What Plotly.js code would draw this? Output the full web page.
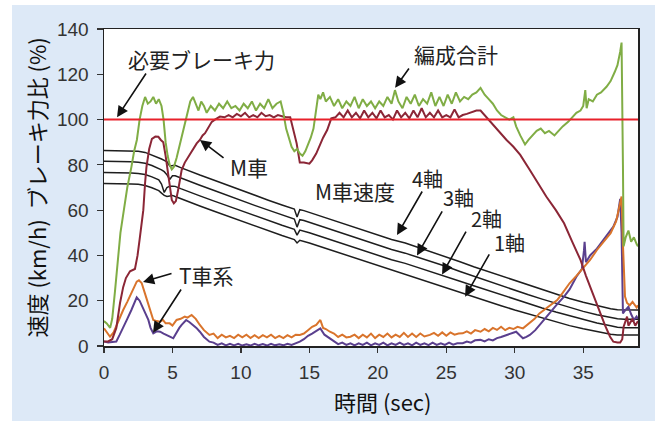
<!DOCTYPE html>
<html>
<head>
<meta charset="utf-8">
<script src="https://cdn.plot.ly/plotly-3.0.1.min.js"></script>
<style>
html,body{margin:0;padding:0;background:#ffffff;}
#chart{position:absolute;left:12px;top:5px;width:643px;height:416px;}
</style>
</head>
<body>
<div id="chart"></div>
<script>
// ---- data ----
var greenT = [0,0.2,0.45,0.6,0.8,1.0,1.2,1.45,1.7,2.0,2.2,2.4,2.6,2.8,3.0,3.2,3.4,3.6,3.8,4.0,4.2,4.35,4.5,4.65,4.8,4.95,5.1,5.3,5.5,5.7,5.9,6.1,6.3,6.5,6.7,6.9,7.1,7.3,7.5,7.8,8.1,8.4,8.7,9.0,9.3,9.6,9.9,10.2,10.5,10.8,11.1,11.4,11.7,12.0,12.3,12.6,12.9,13.1,13.3,13.5,13.7,13.9,14.1,14.3,14.5,14.7,14.9,15.1,15.3,15.5,15.65,15.8,16.0,16.2,16.5,16.8,17.1,17.4,17.7,18.0,18.3,18.6,18.9,19.2,19.5,19.8,20.1,20.4,20.7,21.0,21.25,21.5,21.8,22.1,22.4,22.7,23.0,23.3,23.6,23.9,24.2,24.5,24.8,25.1,25.4,25.7,26.0,26.3,26.6,26.9,27.2,27.5,27.8,28.1,28.4,28.7,29.0,29.3,29.6,29.9,30.1,30.4,30.75,31.0,31.3,31.6,31.9,32.2,32.5,32.9,33.2,33.5,33.9,34.2,34.5,34.8,35.0,35.15,35.25,35.4,35.7,36.0,36.3,36.7,37.0,37.3,37.5,37.7,37.8,37.9,37.95,38.1,38.3,38.5,38.7,38.9,39.0];
var greenV = [11,10,8,12,24,38,50,60,70,79,86,91,100,106,110,107,108,110,107,109,106,100,90,84,80,78,79,83,88,92,97,103,108,110,107,104,108,106,103,106,104,107,105,108,105,106,104,107,105,108,104,107,105,109,105,107,108,103,96,92,88,86,87,85,84,86,89,92,96,104,111,109,112,108,110,106,109,105,108,106,110,105,109,106,108,105,108,106,110,107,113,108,105,110,107,111,106,109,107,112,106,110,106,111,107,112,108,110,109,111,112,114,111,109,107,104,102,101,100,101,97,93,89,91,93,95,96,94,95,93,95,97,99,101,103,104,106,113,105,109,108,111,112,114.5,117,121,124,130,134,80,44,48,51,46,48,45,44];

var mT = [0,0.3,0.6,0.9,1.17,1.4,1.6,1.9,2.26,2.45,2.6,2.75,2.87,3.0,3.1,3.3,3.5,3.75,3.97,4.15,4.33,4.5,4.6,4.8,4.95,5.1,5.25,5.45,5.67,5.9,6.1,6.28,6.5,6.77,7.0,7.2,7.38,7.6,7.87,8.1,8.47,8.8,9.1,9.4,9.7,10.0,10.3,10.6,10.9,11.2,11.5,11.8,12.1,12.4,12.7,13.0,13.3,13.6,13.8,14.07,14.3,14.6,15.0,15.2,15.5,15.8,16.0,16.3,16.6,16.9,17.2,17.5,17.8,18.1,18.4,18.7,19.0,19.3,19.6,19.9,20.2,20.5,20.8,21.1,21.4,21.7,22.0,22.3,22.6,22.9,23.2,23.5,23.8,24.1,24.4,24.7,25.0,25.3,25.6,25.9,26.2,26.5,26.8,27.2,27.5,27.9,28.3,28.7,29.0,29.4,29.9,30.4,31.1,31.7,32.3,33.0,33.6,34.2,34.8,35.2,35.5,35.8,36.2,36.6,36.96,37.2,37.5,37.7,37.85,37.95,38.2,38.3,38.4,38.6,38.8,39.0];
var mV = [2,2,3,8,19,26,30,33,34,40,47,54,60,72,79,87,91.5,92.5,92.4,91,90,84,80,70,64.5,63,64,70,77.7,81,83,85,87,89.5,91,93,94,96,99,100,101.3,101,102,101,102.5,101.5,103,101,102,101,103,101.5,102,101,102,101.5,101,101,96,89.5,81,81,80.5,82,85,89.5,92,95.4,100.5,101,103,101,104,101,103,100.5,104,101,103,100.5,104,101,102,100,104,101,103,100.5,104,101,105,101,103,101,104,101,102,101,104.5,101,102,102.5,103,104,104,101.3,98.5,96,93.5,91,88,84.4,77.7,72,66,60,54.2,46,38,31,26.2,21,15.2,9,4.1,1.9,1.5,1.5,3,8.5,13,9,10,12,9,11];

var orangeT = [0,0.2,0.44,0.7,0.93,1.15,1.4,1.7,2.0,2.2,2.39,2.55,2.75,3.0,3.2,3.36,3.6,3.85,4.1,4.3,4.5,4.8,5.0,5.3,5.6,5.9,6.1,6.4,6.7,7.0,7.3,7.7,8.0,8.3,8.6,8.9,9.2,9.5,9.8,10.1,10.4,10.7,11.0,11.3,11.6,11.9,12.2,12.5,12.8,13.1,13.4,13.7,14.0,14.3,14.6,14.9,15.2,15.5,15.8,16.0,16.2,16.5,16.8,17.1,17.4,17.7,18.0,18.3,18.6,18.9,19.2,19.5,19.8,20.1,20.4,20.7,21.0,21.3,21.6,21.9,22.2,22.5,22.8,23.1,23.4,23.8,24.1,24.4,24.7,25.0,25.3,25.6,25.9,26.2,26.5,26.8,27.1,27.5,27.8,28.1,28.4,28.7,29.0,29.3,29.6,29.9,30.2,30.6,30.85,31.1,31.45,31.8,32.4,33.1,33.5,34.0,34.5,35.0,35.5,36.0,36.5,37.0,37.4,37.7,37.8,37.9,38.05,38.2,38.4,38.6,38.9,39.0];
var orangeV = [7.8,6,4.1,6,9.3,12.5,15.9,19.5,23.3,26,28.4,29,27.8,23,19,15.9,11.5,11,10.7,11.5,10,10,9,11.5,12,13,12.5,13.7,12,9.3,7,4.9,5.5,3.5,5,3.8,4.5,3.5,5,3.8,5,3.5,4.8,3.5,4.8,3.8,5,3.5,4.5,3.5,4.8,3.8,5,4.9,5.5,7,8.5,9.3,11.5,8,7.5,6.3,5.5,4,5,3.8,4.1,5,3.5,5,3.8,5.5,3.5,5,4,5.5,3.8,5,4,5.8,4,5.5,4,5.5,4.2,4.9,5.8,4.5,6,4.5,6,5,5.5,5.6,6.5,5.5,7,6.3,7.5,6.5,8,7.1,8.5,7,8,7.5,8.5,7.8,9,10,12,14.4,17,20.3,23.5,27.7,31,34.3,38,42.4,46,49.8,55,63,66,45,21.8,19,18,19.5,17,18];

var purpleT = [0,0.3,0.6,0.9,1.15,1.4,1.7,2.0,2.2,2.39,2.6,2.9,3.24,3.4,3.6,3.85,4.1,4.35,4.6,4.85,5.06,5.3,5.5,5.67,6.0,6.25,6.5,6.75,7.0,7.3,7.7,8.0,8.3,8.6,8.9,9.2,9.5,9.8,10.1,10.4,10.7,11.0,11.3,11.6,11.9,12.2,12.5,12.8,13.1,13.4,13.7,14.0,14.3,14.6,14.9,15.2,15.5,15.8,16.1,16.5,16.8,17.1,17.4,17.7,18.0,18.3,18.6,18.9,19.2,19.5,19.8,20.1,20.4,20.7,21.0,21.3,21.6,21.9,22.2,22.5,22.8,23.1,23.4,23.7,24.0,24.3,24.6,24.9,25.2,25.5,25.8,26.2,26.5,26.8,27.1,27.5,27.8,28.1,28.4,28.7,29.0,29.4,29.8,30.1,30.4,30.6,30.85,31.1,31.5,32.1,32.6,33.1,33.6,34.0,34.5,34.9,35.05,35.1,35.2,35.5,36.0,36.6,37.2,37.5,37.7,37.8,37.9,38.1,38.3,38.5,38.7,38.9,39.0];
var purpleV = [2,1.5,1.8,2,5,8.5,12,15.9,19,21.5,20,16,11.5,8,5.6,6.5,6.3,5.5,4.9,4,3.4,6,8,9.3,11.5,10.5,9.3,8,6.3,4,1.9,1.5,0.5,1.2,0.3,1,0.3,1,0.2,0.8,0.2,1,0.3,0.9,0.2,1,0.3,0.8,0.3,1,0.5,1.2,1.9,3,4.5,5.5,6.5,7.8,5,3.4,2,0.8,1.5,0.5,1.2,0.3,1.2,0.5,1.5,0.3,1.2,0.5,1.5,0.3,1.2,0.5,1.5,0.5,1.2,0.3,1.5,0.5,1.2,0.4,1.5,0.5,1.2,0.5,1.5,0.6,1.2,1.2,2,1.5,2.5,2.7,2,3,2.5,3.5,4,4.9,5.5,6.3,4.5,3.4,4,4.9,7,11.5,15,18.5,21.8,25,30.6,34,42,46,37,40,43,48,52.7,57,65,50,14.4,16,17.4,14,11.5,13,12];

var speedT = [0,1,2,2.5,3,3.5,4,4.2,4.4,4.6,4.8,5.0,5.2,5.6,6,7,8,9,10,11,12,13,13.9,14.1,14.3,14.6,15,16,17,18,19,20,21,22,23,24,25,26,27,28,29,30,31,32,33,34,35,36,37,37.5,38,39];
var axle4 = [86.3,86.3,86.2,86,85.5,84.4,83.2,82.6,82,81.3,79.5,79.7,79.8,78.8,77.8,75.5,73.3,71,68.8,66.6,64.4,62.3,60.5,57,60.2,59.8,59,57,55,53,51,49,47,45.5,43.5,41.5,39.5,37.2,35,33,30.8,28.8,26.7,24.8,22.8,21,19.3,17.8,16.5,16,15.9,15.9];
var axle3 = [81.6,81.6,81.4,81.2,80.7,79.7,78.4,77.8,77,75.6,73.6,75.2,75.2,74.2,73.2,71,68.8,66.5,64.3,62.1,60,57.9,56.1,52.5,55.8,55.4,54.6,52.6,50.6,48.6,46.6,44.6,42.6,41,39.1,37.1,35.1,32.9,30.8,28.8,26.7,24.7,22.6,20.7,18.8,17,15.3,13.8,12.5,12,11.8,11.8];
var axle2 = [76.6,76.6,76.4,76.2,75.7,74.7,73.4,71.5,67.8,70,70.6,70.6,70.5,69.5,68.5,66.3,64.1,61.9,59.7,57.5,55.4,53.3,51.5,49,51.2,50.8,50,48,46,44,42,40,38.1,36.5,34.6,32.7,30.7,28.6,26.6,24.6,22.6,20.6,18.6,16.8,15,13.3,11.7,10.2,8.9,8.3,8.1,8.1];
var axle1 = [71.8,71.8,71.6,71.4,70.9,69.9,68.6,67.5,66.5,66,66.3,66.5,66,65,64,61.8,59.6,57.4,55.2,53,50.9,48.8,47,45.5,46.7,46.3,45.5,43.5,41.5,39.5,37.5,35.5,33.6,31.8,29.8,27.8,25.7,23.6,21.6,19.7,17.8,15.9,14.1,12.3,10.6,9.0,7.6,6.3,5.2,4.9,4.9,4.9];

var requiredT = [0,39];
var requiredV = [100,100];

var xTicks = [0,5,10,15,20,25,30,35];
var yTicks = [0,20,40,60,80,100,120,140];

// ---- traces ----
var blk = {color:'#1e1e1e', width:1.5};
var traces = [
  {x:speedT, y:axle4, mode:'lines', line:blk, name:'4軸'},
  {x:speedT, y:axle3, mode:'lines', line:blk, name:'3軸'},
  {x:speedT, y:axle2, mode:'lines', line:blk, name:'2軸'},
  {x:speedT, y:axle1, mode:'lines', line:blk, name:'1軸'},
  {x:purpleT, y:purpleV, mode:'lines', line:{color:'#5a3f8e', width:2}, name:'T車系2'},
  {x:orangeT, y:orangeV, mode:'lines', line:{color:'#d9742c', width:2}, name:'T車系1'},
  {x:mT, y:mV, mode:'lines', line:{color:'#8b2636', width:2}, name:'M車'},
  {x:greenT, y:greenV, mode:'lines', line:{color:'#80ad45', width:2}, name:'編成合計'},
  {x:requiredT, y:requiredV, mode:'lines', line:{color:'#e8212b', width:2}, name:'必要ブレーキ力'}
];

var jf = {family:'"Noto Sans CJK JP", "Noto Sans", sans-serif', size:21, color:'#222'};
function lbl(x, y, t, sz) {
  var f = {family:jf.family, size:(sz || jf.size), color:jf.color};
  return {x:x, y:y, xref:'x', yref:'y', text:t, showarrow:false, font:f, xanchor:'center', yanchor:'middle', borderpad:0};
}
function arr(tx, ty, hx, hy) {
  return {x:hx, y:hy, ax:tx, ay:ty, xref:'x', yref:'y', axref:'x', ayref:'y', text:'', showarrow:true,
          arrowhead:2, arrowsize:1.4, arrowwidth:1.6, arrowcolor:'#111', standoff:0, startstandoff:0};
}

var annotations = [
  lbl(7.09, 126.8, '必要ブレーキ力'),
  lbl(25.7, 129.0, '編成合計'),
  lbl(10.6, 79.1, 'M車'),
  lbl(18.33, 68.5, 'M車速度'),
  lbl(23.6, 73.8, '4軸', 20),
  lbl(25.86, 65.4, '3軸', 20),
  lbl(27.95, 56.2, '2軸', 20),
  lbl(29.6, 45.6, '1軸', 20),
  lbl(7.52, 31.4, 'T車系'),
  arr(3.14, 121.0, 0.95, 101.0),
  arr(22.35, 123.2, 21.26, 114.0),
  arr(8.84, 82.6, 7.01, 91.0),
  arr(23.3, 68.9, 21.4, 49.0),
  arr(24.76, 60.1, 22.86, 40.0),
  arr(26.5, 51.2, 24.69, 31.6),
  arr(28.2, 41.1, 26.37, 21.8),
  arr(5.04, 32.2, 2.85, 28.3),
  arr(5.7, 25.6, 3.58, 5.9),
  {x:-0.1292, y:0.5, xref:'paper', yref:'paper', text:'速度 (km/h)  ブレーキ力比 (%)', textangle:-90,
   showarrow:false, xanchor:'center', yanchor:'middle',
   font:{family:'"Noto Sans CJK JP", sans-serif', size:22, color:'#111'}},
  {x:0.5225, y:-0.1735, xref:'paper', yref:'paper', text:'時間 (sec)', showarrow:false,
   xanchor:'center', yanchor:'middle',
   font:{family:'"Noto Sans CJK JP", sans-serif', size:22, color:'#111'}}
];

var tf = {family:'"Liberation Sans", Arial, sans-serif', size:19, color:'#333'};
var layout = {
  width:643, height:416,
  margin:{l:92, r:17, t:24, b:75, pad:0},
  paper_bgcolor:'#dde9f7',
  plot_bgcolor:'#ffffff',
  showlegend:false,
  xaxis:{range:[0,39], tickvals:xTicks, ticktext:xTicks.map(String), ticks:'outside', ticklen:5, tickwidth:1.2,
         tickcolor:'#333', showline:true, mirror:true, linecolor:'#222', linewidth:1.5, showgrid:false,
         zeroline:false, tickfont:tf, ticklabelstandoff:4},
  yaxis:{range:[0,140], tickvals:yTicks, ticktext:yTicks.map(String), ticks:'outside', ticklen:6, tickwidth:1.2,
         tickcolor:'#333', showline:true, mirror:true, linecolor:'#222', linewidth:1.5, showgrid:false,
         zeroline:false, tickfont:tf, ticklabelstandoff:4},
  annotations:annotations
};

Plotly.newPlot('chart', traces, layout, {displayModeBar:false, staticPlot:true});
</script>
</body>
</html>
